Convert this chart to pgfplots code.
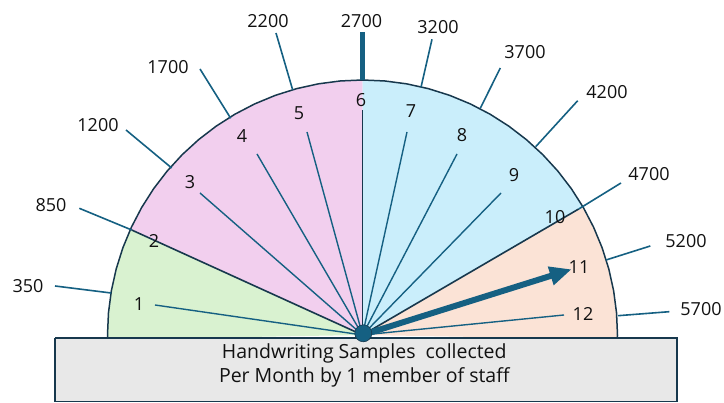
\documentclass[border=0pt]{standalone}
\usepackage{pgfplots}
\pgfplotsset{compat=1.18}
\usepackage{fontspec}
\setmainfont{Open Sans}
\usetikzlibrary{arrows.meta}
\definecolor{tealline}{HTML}{156082}
\definecolor{darkline}{HTML}{17384D}
\definecolor{gfill}{HTML}{D9F2D0}
\definecolor{pfill}{HTML}{F2CFEE}
\definecolor{bfill}{HTML}{CAEEFB}
\definecolor{ofill}{HTML}{FBE3D6}
\definecolor{boxfill}{HTML}{E8E8E8}
\definecolor{txt}{HTML}{111111}
\newcommand{\lbl}{\fontsize{18}{20}\selectfont}
\begin{document}
\begin{tikzpicture}
\begin{axis}[name=ax, x=1pt, y=1pt, xmin=-362.5, xmax=361.5, ymin=-68, ymax=335,
  hide axis, clip=false, scale only axis]
% sectors (polar: angle, radius)
\addplot[fill=gfill, draw=none, data cs=polar] coordinates {(0,0) (155.5,255) (160,255) (165,255) (170,255) (175,255) (180,255) (181,255)};
\addplot[fill=pfill, draw=none, data cs=polar] coordinates {(0,0) (90,255) (95,255) (100,255) (105,255) (110,255) (115,255) (120,255) (125,255) (130,255) (135,255) (140,255) (145,255) (150,255) (155,255) (155.5,255)};
\addplot[fill=bfill, draw=none, data cs=polar] coordinates {(0,0) (30.2,255) (35,255) (40,255) (45,255) (50,255) (55,255) (60,255) (65,255) (70,255) (75,255) (80,255) (85,255) (90,255)};
\addplot[fill=ofill, draw=none, data cs=polar] coordinates {(0,0) (-1,255) (0,255) (5,255) (10,255) (15,255) (20,255) (25,255) (30,255) (30.2,255)};
% arc outline
\addplot[draw=darkline, line width=1.5pt, data cs=polar] coordinates {(181,255) (180,255) (175,255) (170,255) (165,255) (160,255) (155,255) (150,255) (145,255) (140,255) (135,255) (130,255) (125,255) (120,255) (115,255) (110,255) (105,255) (100,255) (95,255) (90,255) (85,255) (80,255) (75,255) (70,255) (65,255) (60,255) (55,255) (50,255) (45,255) (40,255) (35,255) (30,255) (25,255) (20,255) (15,255) (10,255) (5,255) (0,255) (-1,255)};
% sector boundaries (2 and 10)
\addplot[draw=darkline, line width=1.6pt] coordinates {(0,0) (-230.8,105)};
\addplot[draw=darkline, line width=1.6pt] coordinates {(0,0) (216.2,126)};
% inner lines
\addplot[draw=tealline, line width=1.4pt] coordinates {(0,0) (-207.5,30)};
\addplot[draw=tealline, line width=1.4pt] coordinates {(0,0) (-162.5,142)};
\addplot[draw=tealline, line width=1.4pt] coordinates {(0,0) (-105.5,181)};
\addplot[draw=tealline, line width=1.4pt] coordinates {(0,0) (-55.5,203)};
\addplot[draw=darkline, line width=1.4pt] coordinates {(0,0) (0,225)};
\addplot[draw=tealline, line width=1.4pt] coordinates {(0,0) (44.5,203)};
\addplot[draw=tealline, line width=1.4pt] coordinates {(0,0) (94.5,181)};
\addplot[draw=tealline, line width=1.4pt] coordinates {(0,0) (138.5,142)};
\addplot[draw=tealline, line width=1.4pt] coordinates {(0,0) (201.5,20)};
% outer ticks
\addplot[draw=tealline, line width=1.6pt] coordinates {(-307.5,49) (-251.5,42)};
\addplot[draw=tealline, line width=1.6pt] coordinates {(-283.2,126.7) (-230.8,105)};
\addplot[draw=tealline, line width=1.6pt] coordinates {(-236.5,205) (-190.8,167)};
\addplot[draw=tealline, line width=1.6pt] coordinates {(-162.5,266) (-131.8,216.7)};
\addplot[draw=tealline, line width=1.6pt] coordinates {(-86.5,302) (-69.8,245)};
\addplot[draw=tealline, line width=4.5pt] coordinates {(0,302.7) (0,255)};
\addplot[draw=tealline, line width=1.6pt] coordinates {(69.5,295.7) (58.5,247.7)};
\addplot[draw=tealline, line width=1.6pt] coordinates {(137.8,267) (117.8,226.7)};
\addplot[draw=tealline, line width=1.6pt] coordinates {(215.2,234.3) (173.2,188.3)};
\addplot[draw=tealline, line width=1.6pt] coordinates {(258.5,152) (216.2,126)};
\addplot[draw=tealline, line width=1.6pt] coordinates {(287.8,89) (243.5,75)};
\addplot[draw=tealline, line width=1.6pt] coordinates {(306.8,23.3) (255.5,19.3)};
% needle (value 11)
\addplot[draw=tealline, line width=6pt, -{Triangle[length=22pt,width=18pt]}] coordinates {(0,0) (209.2,65.7)};
% base box
\addplot[fill=boxfill, draw=darkline, line width=1.5pt] coordinates {(-307.5,-3) (314.5,-3) (314.5,-66.5) (-307.5,-66.5) (-307.5,-3)};
% hub
\addplot[only marks, mark=*, mark size=8.5pt, mark options={fill=tealline, draw=darkline, line width=0.6pt}] coordinates {(0.8,1.7)};
% number labels
\node[font=\lbl, text=txt] at (axis cs:-223.5,31) {1};
\node[font=\lbl, text=txt] at (axis cs:-208.5,94) {2};
\node[font=\lbl, text=txt] at (axis cs:-172.5,153) {3};
\node[font=\lbl, text=txt] at (axis cs:-120.5,199) {4};
\node[font=\lbl, text=txt] at (axis cs:-63.5,222) {5};
\node[font=\lbl, text=txt] at (axis cs:-1.5,235) {6};
\node[font=\lbl, text=txt] at (axis cs:48.5,224) {7};
\node[font=\lbl, text=txt] at (axis cs:99.5,200) {8};
\node[font=\lbl, text=txt] at (axis cs:151.5,160) {9};
\node[font=\lbl, text=txt] at (axis cs:192.5,118) {10};
\node[font=\lbl, text=txt] at (axis cs:216.5,68) {11};
\node[font=\lbl, text=txt] at (axis cs:220.5,21) {12};
% value labels
\node[font=\lbl, text=txt] at (axis cs:-334.5,49) {350};
\node[font=\lbl, text=txt] at (axis cs:-311.5,130) {850};
\node[font=\lbl, text=txt] at (axis cs:-264.5,210) {1200};
\node[font=\lbl, text=txt] at (axis cs:-194.5,268) {1700};
\node[font=\lbl, text=txt] at (axis cs:-94.5,314) {2200};
\node[font=\lbl, text=txt] at (axis cs:-1,314) {2700};
\node[font=\lbl, text=txt] at (axis cs:75.5,308) {3200};
\node[font=\lbl, text=txt] at (axis cs:162.5,283) {3700};
\node[font=\lbl, text=txt] at (axis cs:244.5,243) {4200};
\node[font=\lbl, text=txt] at (axis cs:286.5,161) {4700};
\node[font=\lbl, text=txt] at (axis cs:323.5,94) {5200};
\node[font=\lbl, text=txt] at (axis cs:338.5,26) {5700};
% box text
\node[font=\fontsize{19.5}{24.3}\selectfont, text=txt, align=center] at (axis cs:1.8,-30.5) {Handwriting Samples\ \ collected\\Per Month by 1 member of staff};
\end{axis}
\pgfresetboundingbox
\path (ax.south west) rectangle (ax.north east);
\end{tikzpicture}
\end{document}
